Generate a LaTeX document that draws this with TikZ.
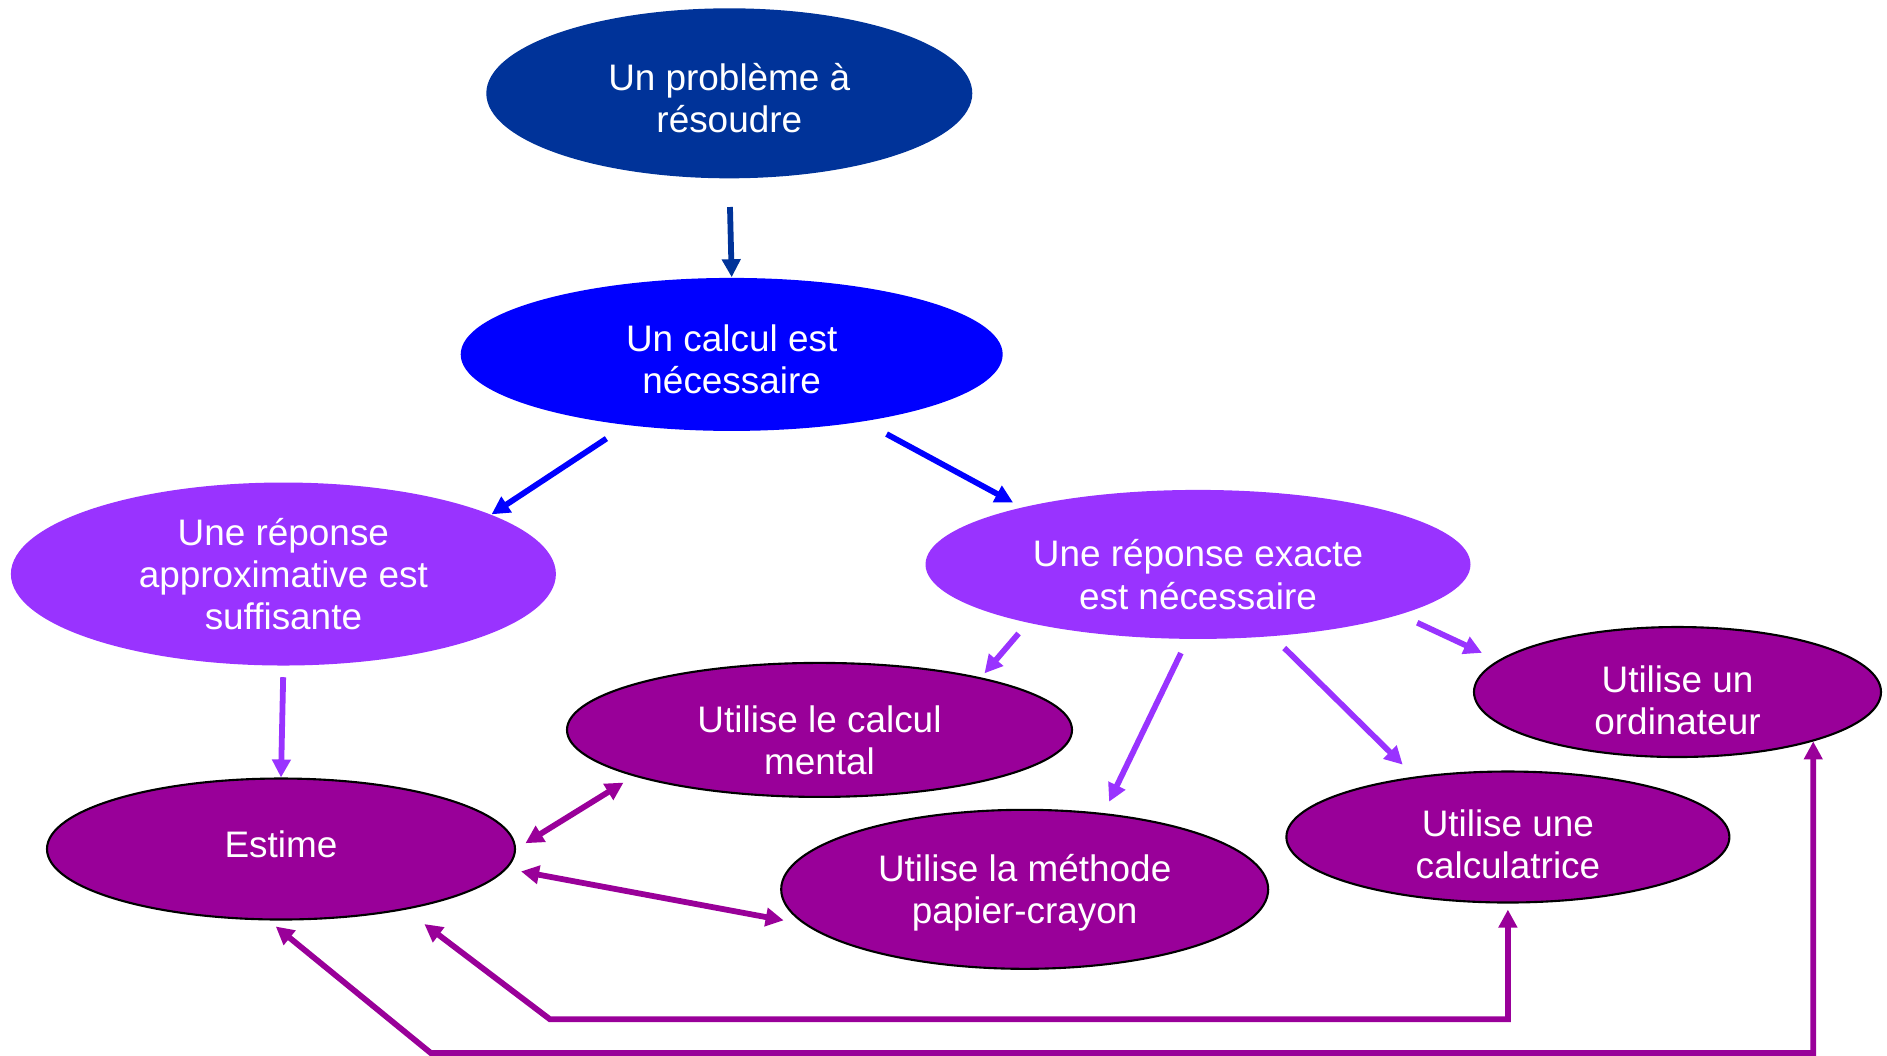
\documentclass[tikz,border=0pt]{standalone}
\usepackage{fontspec}
\setmainfont{Liberation Sans}
\usetikzlibrary{shapes.geometric, arrows.meta}
\definecolor{bleuprobleme}{HTML}{003399}
\definecolor{bleucalcul}{HTML}{0000FF}
\definecolor{violetreponse}{HTML}{9933FF}
\definecolor{violetmethode}{HTML}{990099}

\begin{document}
\begin{tikzpicture}[
  bulle/.style={ellipse, inner sep=0pt, align=center, text=white, font=\fontsize{10.5}{12}\selectfont},
  methodebulle/.style={bulle, fill=violetmethode, draw=black, line width=0.6pt},
  fleche/.style={-{Triangle[length=1.8mm, width=1.8mm]}, line width=1.65pt},
  doublefleche/.style={{Triangle[length=1.8mm, width=1.8mm]}-{Triangle[length=1.8mm, width=1.8mm]}, line width=1.65pt, violetmethode}
]
  \useasboundingbox (0,0) rectangle (18.87,-10.55);

  \node (probleme) [bulle, fill=bleuprobleme, minimum width=4.86cm, minimum height=1.70cm, text height=22.5pt] at (7.293,-0.933) {Un problème à\\résoudre};
  \node (calcul) [bulle, fill=bleucalcul, minimum width=5.42cm, minimum height=1.53cm, text height=22.2pt] at (7.317,-3.544) {Un calcul est\\nécessaire};
  \node (approx) [bulle, fill=violetreponse, minimum width=5.45cm, minimum height=1.83cm] at (2.834,-5.740) {Une réponse\\approximative est\\suffisante};
  \node (exacte) [bulle, fill=violetreponse, minimum width=5.45cm, minimum height=1.49cm, text height=25.5pt] at (11.980,-5.644) {Une réponse exacte\\est nécessaire};
  \node (mental) [methodebulle, minimum width=5.05cm, minimum height=1.34cm, text height=25.3pt] at (8.195,-7.299) {Utilise le calcul\\mental};
  \node (ordinateur) [methodebulle, minimum width=4.07cm, minimum height=1.30cm, text height=24.3pt] at (16.775,-6.920) {Utilise un\\ordinateur};
  \node (estime) [methodebulle, minimum width=4.68cm, minimum height=1.41cm, text depth=2.7pt] at (2.810,-8.490) {Estime};
  \node (papier) [methodebulle, minimum width=4.87cm, minimum height=1.59cm, text depth=0.2pt] at (10.247,-8.893) {Utilise la méthode\\papier-crayon};
  \node (calculatrice) [methodebulle, minimum width=4.43cm, minimum height=1.31cm, text height=23.6pt] at (15.079,-8.370) {Utilise une\\calculatrice};

  \draw[fleche, bleuprobleme, shorten <=2.8mm] (probleme.south) -- (calcul.north);
  \draw[fleche, bleucalcul, shorten <=2.37mm] (calcul.214.4) -- (approx.16);
  \draw[fleche, bleucalcul, shorten <=2.57mm, shorten >=0.95mm] (calcul.333.9) -- (exacte.162.2);
  \draw[fleche, violetreponse, shorten <=1.1mm] (approx.south) -- (estime.north);
  \draw[fleche, violetreponse, shorten <=1.36mm, shorten >=0.54mm] (exacte.199.5) -- (mental.18.3);
  \draw[fleche, violetreponse, shorten <=1.5mm, shorten >=1.26mm] (exacte.262.6) -- (papier.44.5);
  \draw[fleche, violetreponse, shorten <=1.6mm, shorten >=1.7mm] (exacte.316.6) -- (calculatrice.147.3);
  \draw[fleche, violetreponse, shorten <=1.85mm, shorten >=1.77mm] (exacte.346.2) -- (ordinateur.170.2);

  \draw[doublefleche, shorten <=1.1mm, shorten >=1.2mm] (estime.0.5) -- (mental.194.3);
  \draw[doublefleche, shorten <=1.44mm, shorten >=2.1mm] (estime.355) -- (papier.189.9);

  % retours vers Estime
  \coordinate (coudecalc) at (5.50,-10.193);
  \coordinate (coudeordi) at (4.308,-10.530);
  \draw[doublefleche, shorten <=0.6mm, shorten >=2.37mm] (calculatrice.south) |- (coudecalc) -- (estime.334.5);
  \draw[doublefleche, shorten >=0.95mm] (ordinateur.340.4) |- (coudeordi) -- (estime.260.7);
\end{tikzpicture}
\end{document}
